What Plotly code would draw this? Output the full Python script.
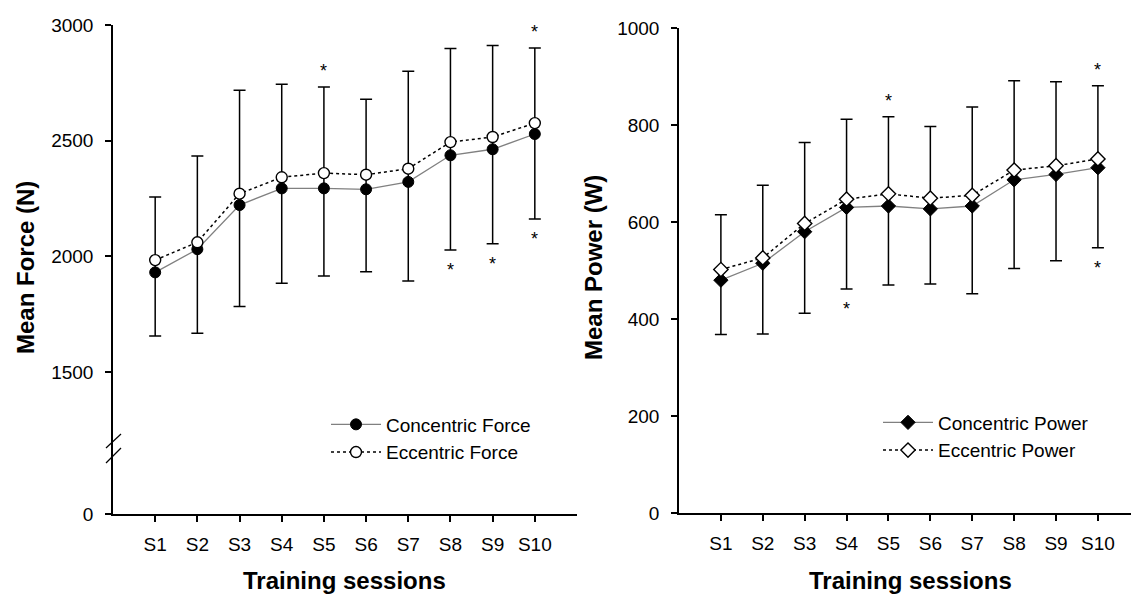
import plotly.graph_objects as go

W, H = 1131, 596

# ---------------- data ----------------
sessions = ["S1", "S2", "S3", "S4", "S5", "S6", "S7", "S8", "S9", "S10"]

force_concentric = [1931, 2031, 2222, 2294, 2294, 2290, 2322, 2437, 2463, 2529]
force_concentric_sd = [275, 363, 439, 410, 379, 356, 428, 409, 408, 367]
force_eccentric = [1984, 2061, 2271, 2342, 2360, 2353, 2379, 2494, 2516, 2576]
force_eccentric_sd = [273, 373, 447, 402, 372, 326, 421, 404, 395, 325]

power_concentric = [480, 515, 580, 630, 633, 627, 633, 687, 698, 712]
power_concentric_sd = [112, 146, 168, 168, 163, 155, 181, 183, 178, 165]
power_eccentric = [502, 526, 597, 647, 658, 649, 655, 707, 716, 730]
power_eccentric_sd = [113, 150, 167, 165, 159, 148, 182, 184, 173, 151]

force_sig_above = ["S5", "S10"]
force_sig_below = ["S8", "S9", "S10"]
power_sig_above = ["S5", "S10"]
power_sig_below = ["S4", "S10"]

force_yticks = [1500, 2000, 2500, 3000]
power_yticks = [0, 200, 400, 600, 800, 1000]

FONT = "Liberation Sans, Arial, sans-serif"


def px_x(p):
    return p / W


def px_y(p):
    return 1 - p / H


xi = list(range(1, len(sessions) + 1))

fig = go.Figure()


def add_panel(xa, ya, conc, conc_sd, ecc, ecc_sd, names, symbols, legend):
    lower = [c - s for c, s in zip(conc, conc_sd)]
    upper = [e + s for e, s in zip(ecc, ecc_sd)]
    # combined error bar: from concentric lower end to eccentric upper end
    fig.add_trace(go.Scatter(
        x=xi, y=conc, mode="markers", xaxis=xa, yaxis=ya,
        marker=dict(size=1, opacity=0), showlegend=False, hoverinfo="skip",
        error_y=dict(type="data", symmetric=False,
                     array=[u - c for u, c in zip(upper, conc)],
                     arrayminus=[c - l for c, l in zip(conc, lower)],
                     color="black", thickness=1.5, width=6),
    ))
    fig.add_trace(go.Scatter(
        x=xi, y=conc, mode="lines+markers", name=names[0], xaxis=xa, yaxis=ya,
        line=dict(color="#808080", width=1.3),
        marker=dict(symbol=symbols[0], size=11, color="black",
                    line=dict(color="black", width=1)),
        legend=legend,
    ))
    fig.add_trace(go.Scatter(
        x=xi, y=ecc, mode="lines+markers", name=names[1], xaxis=xa, yaxis=ya,
        line=dict(color="black", width=1.5, dash="dot"),
        marker=dict(symbol=symbols[1], size=11, color="white",
                    line=dict(color="black", width=1.4)),
        legend=legend,
    ))
    return lower, upper


f_low, f_up = add_panel("x", "y", force_concentric, force_concentric_sd,
                        force_eccentric, force_eccentric_sd,
                        ["Concentric Force", "Eccentric Force"],
                        ["circle", "circle"], "legend")
p_low, p_up = add_panel("x2", "y2", power_concentric, power_concentric_sd,
                        power_eccentric, power_eccentric_sd,
                        ["Concentric Power", "Eccentric Power"],
                        ["diamond", "diamond"], "legend2")
# keeps lower broken axis segment alive
fig.add_trace(go.Scatter(x=[None], y=[None], xaxis="x", yaxis="y3",
                         showlegend=False, hoverinfo="skip"))

annotations = []


def stars(xref, yref, sig_above, sig_below, low, up):
    for s in sig_above:
        i = sessions.index(s)
        annotations.append(dict(x=xi[i], y=up[i], xref=xref, yref=yref, text="*",
                                showarrow=False, yanchor="middle", yshift=16,
                                font=dict(size=18, color="black", family=FONT)))
    for s in sig_below:
        i = sessions.index(s)
        annotations.append(dict(x=xi[i], y=low[i], xref=xref, yref=yref, text="*",
                                showarrow=False, yanchor="middle", yshift=-20,
                                font=dict(size=18, color="black", family=FONT)))


stars("x", "y", force_sig_above, force_sig_below, f_low, f_up)
stars("x2", "y2", power_sig_above, power_sig_below, p_low, p_up)

title_font = dict(size=24, color="black", family=FONT)
annotations += [
    dict(text="<b>Mean Force (N)</b>", x=px_x(25), y=px_y(268), xref="paper", yref="paper",
         textangle=-90, showarrow=False, xanchor="center", yanchor="middle", font=title_font),
    dict(text="<b>Mean Power (W)</b>", x=px_x(593), y=px_y(268), xref="paper", yref="paper",
         textangle=-90, showarrow=False, xanchor="center", yanchor="middle", font=title_font),
    dict(text="<b>Training sessions</b>", x=px_x(344.5), y=px_y(580), xref="paper", yref="paper",
         showarrow=False, xanchor="center", yanchor="middle", font=title_font),
    dict(text="<b>Training sessions</b>", x=px_x(910), y=px_y(580), xref="paper", yref="paper",
         showarrow=False, xanchor="center", yanchor="middle", font=title_font),
]

shapes = [
    dict(type="line", xref="paper", yref="paper", x0=px_x(106), y0=px_y(448),
         x1=px_x(121), y1=px_y(434), line=dict(color="black", width=1.2)),
    dict(type="line", xref="paper", yref="paper", x0=px_x(106), y0=px_y(463),
         x1=px_x(121), y1=px_y(448), line=dict(color="black", width=1.2)),
]

tick_font = dict(size=19, color="black", family=FONT)
common_axis = dict(showgrid=False, zeroline=False, showline=True, linecolor="black",
                   linewidth=1.5, ticks="outside", ticklen=6, tickwidth=1.5,
                   tickcolor="black", tickfont=tick_font, automargin=False)

fig.update_layout(
    width=W, height=H, margin=dict(l=0, r=0, t=0, b=0, autoexpand=False),
    paper_bgcolor="white", plot_bgcolor="white",
    font=dict(family=FONT, color="black"),
    xaxis=dict(domain=[px_x(113), px_x(577)], range=[0, 11], anchor="y3",
               tickvals=xi, ticktext=sessions, ticklabelstandoff=6, **common_axis),
    yaxis=dict(domain=[px_y(448), px_y(25)], range=[1172, 3000], anchor="x",
               tickvals=force_yticks, ticklabelstandoff=8, **common_axis),
    yaxis3=dict(domain=[px_y(514), px_y(448)], range=[0, 100], anchor="x",
                tickvals=[0], ticklabelstandoff=8, **common_axis),
    xaxis2=dict(domain=[px_x(679), 1.0], range=[0, 10.79], anchor="y2",
                tickvals=xi, ticktext=sessions, ticklabelstandoff=6, **common_axis),
    yaxis2=dict(domain=[px_y(513), px_y(28)], range=[0, 1000], anchor="x2",
                tickvals=power_yticks, ticklabelstandoff=8, **common_axis),
    legend=dict(x=px_x(326), y=px_y(405.5), xanchor="left", yanchor="top",
                bgcolor="rgba(0,0,0,0)", borderwidth=0, itemwidth=50,
                font=dict(size=19, color="black", family=FONT), tracegroupgap=0),
    legend2=dict(x=px_x(878), y=px_y(403.5), xanchor="left", yanchor="top",
                 bgcolor="rgba(0,0,0,0)", borderwidth=0, itemwidth=50,
                 font=dict(size=19, color="black", family=FONT), tracegroupgap=0),
    annotations=annotations,
    shapes=shapes,
    showlegend=True,
)

fig.write_html("out.html")
